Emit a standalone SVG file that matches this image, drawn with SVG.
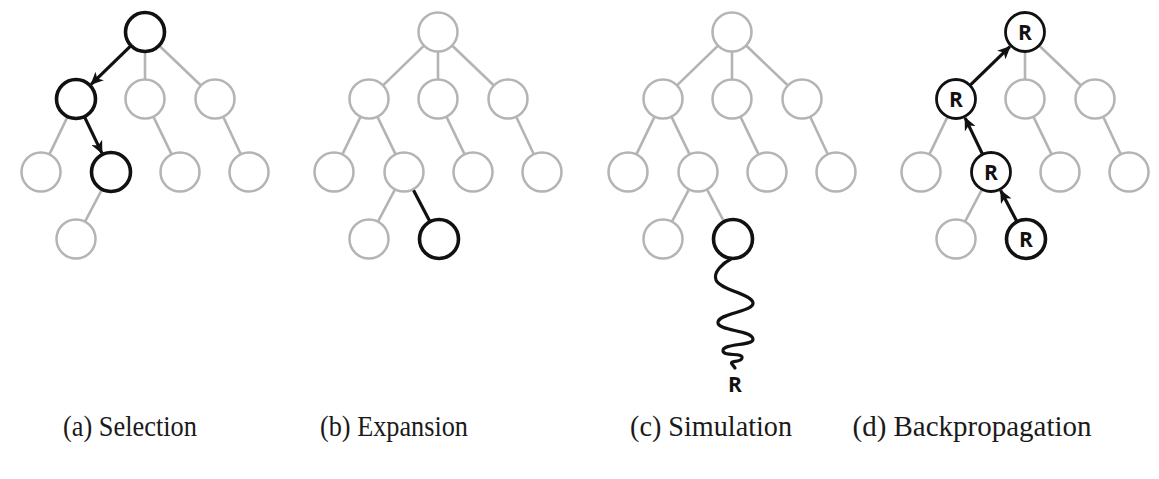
<svg xmlns="http://www.w3.org/2000/svg" width="1159" height="479" viewBox="0 0 1159 479">
<defs>
<style>
.g{fill:#fff;stroke:#b4b4b4;stroke-width:2.5}
.k{fill:#fff;stroke:#111;stroke-width:3.6}
.k2{fill:#fff;stroke:#111;stroke-width:2.8}
.eg{stroke:#b4b4b4;stroke-width:2.6;fill:none}
.ek{stroke:#111;stroke-width:3.2;fill:none}
.ea{stroke:#111;stroke-width:3.2;fill:none;marker-end:url(#arr)}
.r{font-family:"Open Sans","Liberation Sans",sans-serif;font-weight:bold;font-size:21px;fill:#111;text-anchor:middle}
.cap{font-family:"Liberation Serif","Times New Roman",serif;font-size:29px;fill:#1a1a1a;text-anchor:middle}
</style>
<marker id="arr" markerUnits="userSpaceOnUse" markerWidth="14" markerHeight="12" refX="12" refY="6" orient="auto">
<path d="M0,0 L13,6 L0,12 L3.5,6 z" fill="#111"/>
</marker>
</defs>
<rect width="1159" height="479" fill="#fff"/>

<g id="connectors">
  <g id="conn-a" transform="translate(145,0)">
    <line class="ea" x1="-14" y1="45.6" x2="-53.9" y2="84.4"/>
    <line class="eg" x1="0" y1="51.5" x2="0" y2="79.5"/>
    <line class="eg" x1="14.1" y1="45.5" x2="55.9" y2="85.5"/>
    <line class="eg" x1="-77.4" y1="116.6" x2="-95.6" y2="154.4"/>
    <line class="ea" x1="-60.6" y1="116.6" x2="-43.1" y2="153.1"/>
    <line class="eg" x1="8.4" y1="116.6" x2="26.6" y2="154.4"/>
    <line class="eg" x1="78.2" y1="116.7" x2="95.8" y2="154.3"/>
    <line class="eg" x1="-43" y1="189.3" x2="-60" y2="221.7"/>
  </g>
  <g id="conn-b" transform="translate(438,0)">
    <line class="eg" x1="-14" y1="45.6" x2="-55" y2="85.4"/>
    <line class="eg" x1="0" y1="51.5" x2="0" y2="79.5"/>
    <line class="eg" x1="14.1" y1="45.5" x2="55.9" y2="85.5"/>
    <line class="eg" x1="-77.4" y1="116.6" x2="-95.6" y2="154.4"/>
    <line class="eg" x1="-60.6" y1="116.6" x2="-42.4" y2="154.4"/>
    <line class="eg" x1="8.4" y1="116.6" x2="26.6" y2="154.4"/>
    <line class="eg" x1="78.2" y1="116.7" x2="95.8" y2="154.3"/>
    <line class="eg" x1="-43" y1="189.3" x2="-60" y2="221.7"/>
    <line class="ek" x1="-25" y1="189.3" x2="-8" y2="221.7"/>
  </g>
  <g id="conn-c" transform="translate(732,0)">
    <line class="eg" x1="-14" y1="45.6" x2="-55" y2="85.4"/>
    <line class="eg" x1="0" y1="51.5" x2="0" y2="79.5"/>
    <line class="eg" x1="14.1" y1="45.5" x2="55.9" y2="85.5"/>
    <line class="eg" x1="-77.4" y1="116.6" x2="-95.6" y2="154.4"/>
    <line class="eg" x1="-60.6" y1="116.6" x2="-42.4" y2="154.4"/>
    <line class="eg" x1="8.4" y1="116.6" x2="26.6" y2="154.4"/>
    <line class="eg" x1="78.2" y1="116.7" x2="95.8" y2="154.3"/>
    <line class="eg" x1="-43" y1="189.3" x2="-60" y2="221.7"/>
    <line class="eg" x1="-25" y1="189.3" x2="-8" y2="221.7"/>
    <path class="ek" stroke-width="3.6" stroke-linecap="round" d="M-1,259 C-9,263 -19,272 -16,280 C-12,290 20,294 21,303 C22,312 -15,313 -14,323 C-13,331 20,330 21,339 C22,346 -10,343 -9,351 C-8,357 11,352 10,358 C9,363 -3,360 0,364 L3,368"/>
  </g>
  <g id="conn-d" transform="translate(1025,0)">
    <line class="ea" x1="-55" y1="85.4" x2="-15.1" y2="46.6"/>
    <line class="eg" x1="0" y1="51.5" x2="0" y2="79.5"/>
    <line class="eg" x1="14.1" y1="45.5" x2="55.9" y2="85.5"/>
    <line class="eg" x1="-77.4" y1="116.6" x2="-95.6" y2="154.4"/>
    <line class="ea" x1="-42.4" y1="154.4" x2="-59.9" y2="117.9"/>
    <line class="eg" x1="8.4" y1="116.6" x2="26.6" y2="154.4"/>
    <line class="eg" x1="78.2" y1="116.7" x2="95.8" y2="154.3"/>
    <line class="eg" x1="-43" y1="189.3" x2="-60" y2="221.7"/>
    <line class="ea" x1="-8" y1="221.7" x2="-24.3" y2="190.6"/>
  </g>
</g>

<g id="panel-a" transform="translate(145,0)">
  <g id="a-root"><circle class="k" cx="0" cy="32" r="19.5"/></g>
  <g id="a-n1"><circle class="k" cx="-69" cy="99" r="19.5"/></g>
  <g id="a-n2"><circle class="g" cx="0" cy="99" r="19.5"/></g>
  <g id="a-n3"><circle class="g" cx="70" cy="99" r="19.5"/></g>
  <g id="a-n4"><circle class="g" cx="-104" cy="172" r="19.5"/></g>
  <g id="a-n5"><circle class="k" cx="-34" cy="172" r="19.5"/></g>
  <g id="a-n6"><circle class="g" cx="35" cy="172" r="19.5"/></g>
  <g id="a-n7"><circle class="g" cx="104" cy="172" r="19.5"/></g>
  <g id="a-n8"><circle class="g" cx="-69" cy="239" r="19.5"/></g>
</g>

<g id="panel-b" transform="translate(438,0)">
  <g id="b-root"><circle class="g" cx="0" cy="32" r="19.5"/></g>
  <g id="b-n1"><circle class="g" cx="-69" cy="99" r="19.5"/></g>
  <g id="b-n2"><circle class="g" cx="0" cy="99" r="19.5"/></g>
  <g id="b-n3"><circle class="g" cx="70" cy="99" r="19.5"/></g>
  <g id="b-n4"><circle class="g" cx="-104" cy="172" r="19.5"/></g>
  <g id="b-n5"><circle class="g" cx="-34" cy="172" r="19.5"/></g>
  <g id="b-n6"><circle class="g" cx="35" cy="172" r="19.5"/></g>
  <g id="b-n7"><circle class="g" cx="104" cy="172" r="19.5"/></g>
  <g id="b-n8"><circle class="g" cx="-69" cy="239" r="19.5"/></g>
  <g id="b-n9"><circle class="k" cx="1" cy="239" r="19.5"/></g>
</g>

<g id="panel-c" transform="translate(732,0)">
  <g id="c-root"><circle class="g" cx="0" cy="32" r="19.5"/></g>
  <g id="c-n1"><circle class="g" cx="-69" cy="99" r="19.5"/></g>
  <g id="c-n2"><circle class="g" cx="0" cy="99" r="19.5"/></g>
  <g id="c-n3"><circle class="g" cx="70" cy="99" r="19.5"/></g>
  <g id="c-n4"><circle class="g" cx="-104" cy="172" r="19.5"/></g>
  <g id="c-n5"><circle class="g" cx="-34" cy="172" r="19.5"/></g>
  <g id="c-n6"><circle class="g" cx="35" cy="172" r="19.5"/></g>
  <g id="c-n7"><circle class="g" cx="104" cy="172" r="19.5"/></g>
  <g id="c-n8"><circle class="g" cx="-69" cy="239" r="19.5"/></g>
  <g id="c-n9"><circle class="k" cx="1" cy="239" r="19.5"/></g>
  <g id="c-result"><text class="r" x="3" y="392">R</text></g>
</g>

<g id="panel-d" transform="translate(1025,0)">
  <g id="d-root"><circle class="k2" cx="0" cy="32" r="19.5"/><text class="r" x="0" y="39.5">R</text></g>
  <g id="d-n1"><circle class="k2" cx="-69" cy="99" r="19.5"/><text class="r" x="-69" y="106.5">R</text></g>
  <g id="d-n2"><circle class="g" cx="0" cy="99" r="19.5"/></g>
  <g id="d-n3"><circle class="g" cx="70" cy="99" r="19.5"/></g>
  <g id="d-n4"><circle class="g" cx="-104" cy="172" r="19.5"/></g>
  <g id="d-n5"><circle class="k2" cx="-34" cy="172" r="19.5"/><text class="r" x="-34" y="179.5">R</text></g>
  <g id="d-n6"><circle class="g" cx="35" cy="172" r="19.5"/></g>
  <g id="d-n7"><circle class="g" cx="104" cy="172" r="19.5"/></g>
  <g id="d-n8"><circle class="g" cx="-69" cy="239" r="19.5"/></g>
  <g id="d-n9"><circle class="k" cx="1" cy="239" r="19.5"/><text class="r" x="1" y="246.5">R</text></g>
</g>

<g id="captions">
  <text class="cap" x="130" y="436" textLength="134" lengthAdjust="spacingAndGlyphs">(a) Selection</text>
  <text class="cap" x="394" y="436" textLength="148" lengthAdjust="spacingAndGlyphs">(b) Expansion</text>
  <text class="cap" x="711" y="436" textLength="162" lengthAdjust="spacingAndGlyphs">(c) Simulation</text>
  <text class="cap" x="972" y="436" textLength="239" lengthAdjust="spacingAndGlyphs">(d) Backpropagation</text>
</g>
</svg>
